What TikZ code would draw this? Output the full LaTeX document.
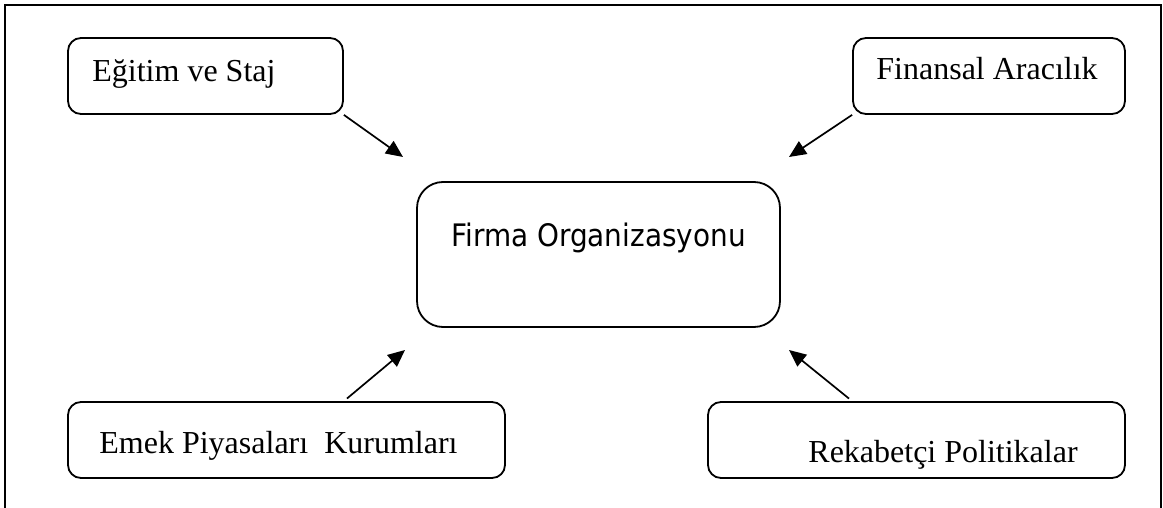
\documentclass[tikz,border=0pt]{standalone}
\usepackage{fontspec}
\setmainfont{Liberation Serif}
\newfontfamily\ortafont[FakeStretch=0.9]{DejaVu Sans}
\usetikzlibrary{arrows.meta}
\tikzset{
  kutu/.style={draw, line width=0.9pt, rounded corners=6.5pt, minimum height=38pt, inner sep=0pt},
  orta/.style={draw, line width=0.9pt, rounded corners=13pt, minimum width=181.5pt, minimum height=72.5pt, inner sep=0pt},
  yazi/.style={anchor=base west, inner sep=0pt, font=\fontsize{16}{19}\selectfont},
  ok/.style={-{Triangle[length=8.5pt,width=7.5pt]}, line width=0.85pt}
}
\begin{document}
\begin{tikzpicture}[x=0.5pt, y=-0.5pt]
		\useasboundingbox (0,0) rectangle (1163,508);
		% cerceve
		\draw[line width=1.25pt] (5,508) -- (5,5) -- (1161,5) -- (1161,508);
		% kutular
		\node[kutu, minimum width=137.5pt] (egitim) at (205.5,76) {};
		\node[kutu, minimum width=136pt] (finans) at (989,76) {};
		\node[kutu, minimum width=218.5pt] (emek) at (286.5,440) {};
		\node[kutu, minimum width=208.5pt] (rekabet) at (916.5,440) {};
		\node[orta] (firma) at (598.5,254.5) {};
		% yazilar
		\node[yazi] (egitimT) at (92,82) {Eğitim ve Staj};
		\node[yazi] (finansT) at (876,80) {Finansal Aracılık};
		\node[yazi] (emekT) at (99,453) {Emek Piyasaları~ Kurumları};
		\node[yazi] (rekabetT) at (808,462) {Rekabetçi Politikalar};
		\node[anchor=base, inner sep=0pt, font=\ortafont\fontsize{15.5}{19}\selectfont] (firmaT) at (598.5,247) {Firma Organizasyonu};
		% oklar
		\coordinate (u1) at (403,157);
		\coordinate (u2) at (789,157);
		\coordinate (u3) at (405,350);
		\coordinate (u4) at (789,350);
		\draw[ok] (egitim.south east) -- (u1);
		\draw[ok] (finans.south west) -- (u2);
		\draw[ok, shorten <=2pt] (egitim.south east |- emek.north) -- (u3);
		\draw[ok, shorten <=2pt] (finans.south west |- rekabet.north) -- (u4);
\end{tikzpicture}
\end{document}
